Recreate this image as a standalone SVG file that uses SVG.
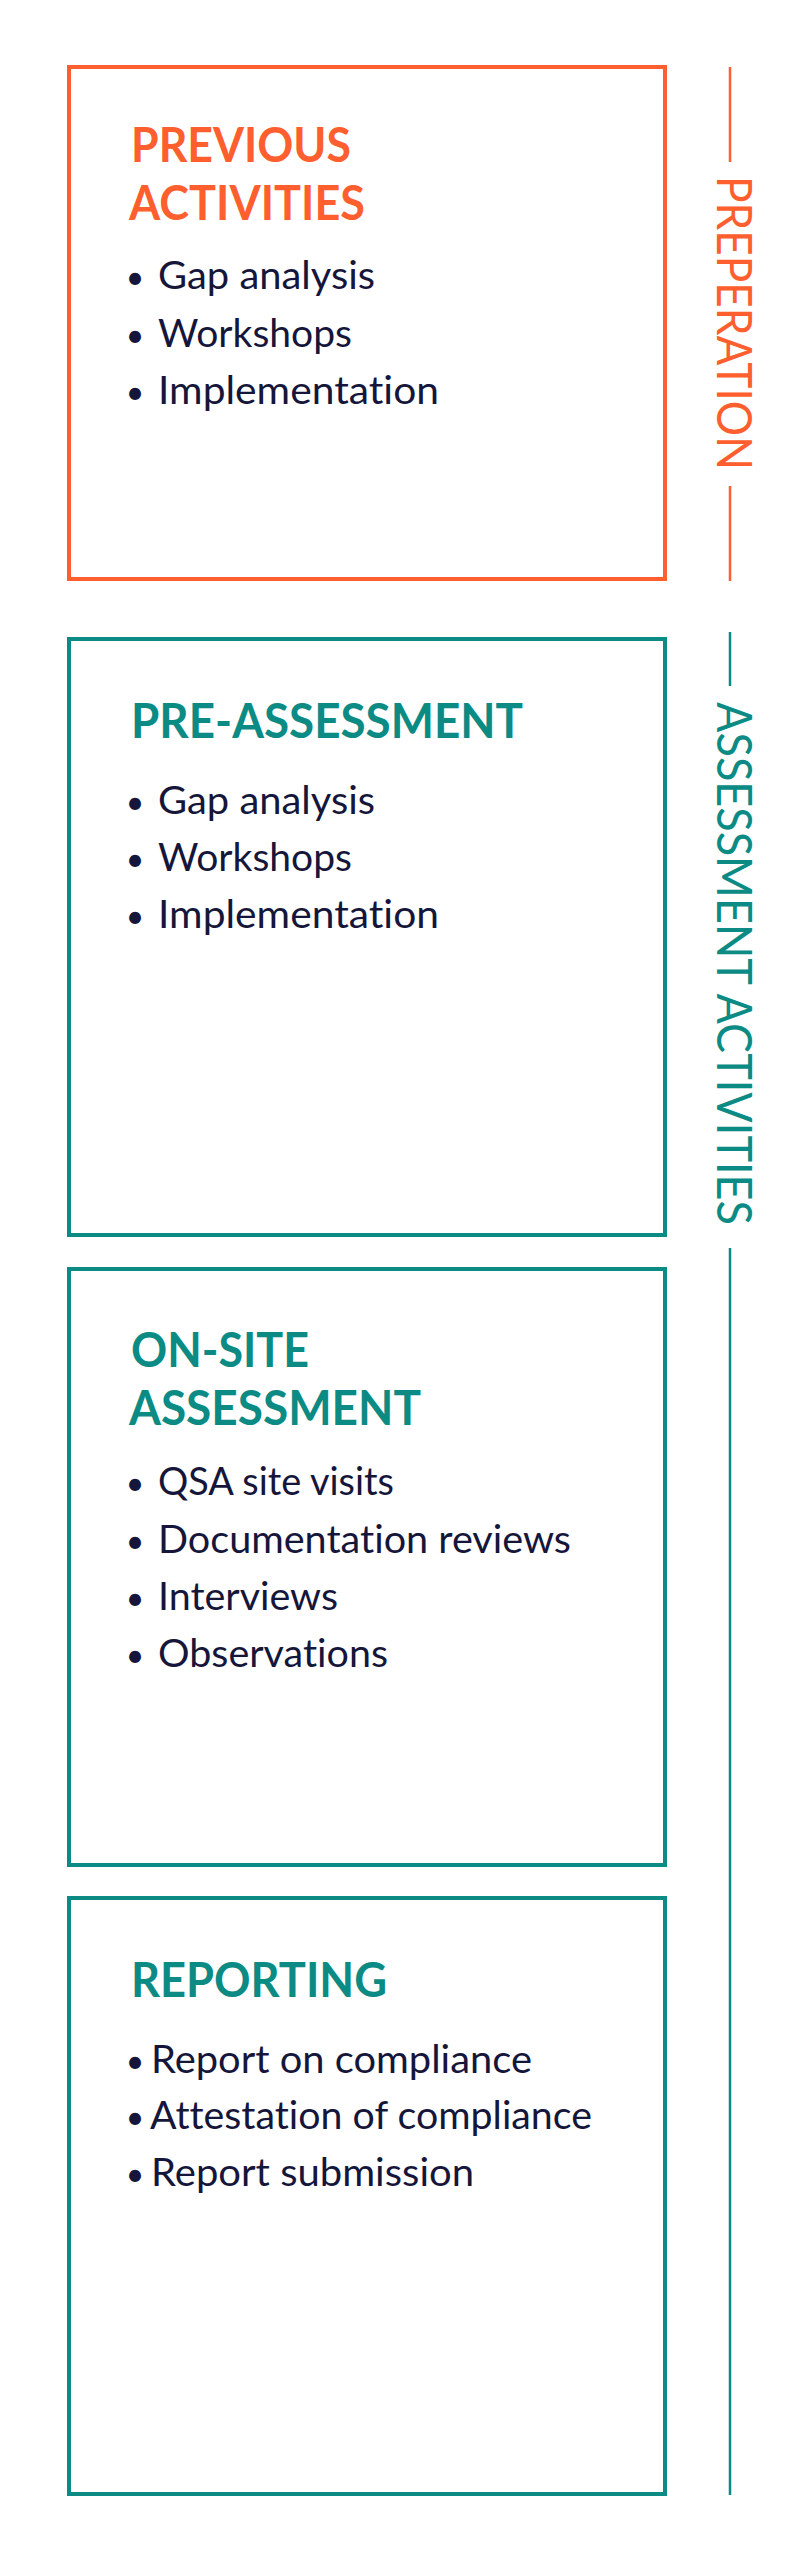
<svg xmlns="http://www.w3.org/2000/svg" width="800" height="2565" viewBox="0 0 800 2565">
<style>
.bg{fill:#ffffff}
.box{fill:none;stroke-width:4}
.or{stroke:#FF5F2E}
.tl{stroke:#0B8B84}
text{font-variant-ligatures:none}
.title{font-family:Lato,"Source Sans Pro","Noto Sans",sans-serif;font-weight:700;font-size:48px}
.tor{fill:#FF5F2E}
.ttl{fill:#0B8B84}
.item{font-family:Lato,"Noto Sans",sans-serif;font-size:39px;fill:#15163A}
.dot{font-family:Lato,"Noto Sans",sans-serif;font-size:32px;fill:#15163A;text-anchor:middle}
.side{font-family:Lato,"Noto Sans",sans-serif;font-weight:400;font-size:48px}
.rule{stroke-width:2.5;fill:none}
</style>
<rect class="bg" x="0" y="0" width="800" height="2565"/>
<g id="connectors">
<line class="rule or" x1="730" y1="67" x2="730" y2="162"/>
<line class="rule or" x1="730" y1="486" x2="730" y2="581"/>
<line class="rule tl" x1="730" y1="632" x2="730" y2="686"/>
<line class="rule tl" x1="730" y1="1248" x2="730" y2="2495"/>
</g>
<g id="label-preparation">
<text class="side tor" transform="translate(717,176) rotate(90)" textLength="294" lengthAdjust="spacingAndGlyphs">PREPERATION</text>
</g>
<g id="label-assessment">
<text class="side ttl" transform="translate(717,702) rotate(90)" textLength="523" lengthAdjust="spacingAndGlyphs">ASSESSMENT ACTIVITIES</text>
</g>
<g id="node-previous">
<rect class="box or" x="69" y="67" width="596" height="512"/>
<text class="title tor" x="131" y="162" textLength="220" lengthAdjust="spacingAndGlyphs">PREVIOUS</text>
<text class="title tor" x="129" y="220" textLength="236" lengthAdjust="spacingAndGlyphs">ACTIVITIES</text>
<text class="dot" x="135" y="289">•</text>
<text class="item" x="158" y="289" textLength="217" lengthAdjust="spacingAndGlyphs">Gap analysis</text>
<text class="dot" x="135" y="347">•</text>
<text class="item" x="158" y="347" textLength="194" lengthAdjust="spacingAndGlyphs">Workshops</text>
<text class="dot" x="135" y="404">•</text>
<text class="item" x="158" y="404" textLength="281" lengthAdjust="spacingAndGlyphs">Implementation</text>
</g>
<g id="node-pre-assessment">
<rect class="box tl" x="69" y="639" width="596" height="596"/>
<text class="title ttl" x="131" y="738" textLength="392" lengthAdjust="spacingAndGlyphs">PRE-ASSESSMENT</text>
<text class="dot" x="135" y="814">•</text>
<text class="item" x="158" y="814" textLength="217" lengthAdjust="spacingAndGlyphs">Gap analysis</text>
<text class="dot" x="135" y="871">•</text>
<text class="item" x="158" y="871" textLength="194" lengthAdjust="spacingAndGlyphs">Workshops</text>
<text class="dot" x="135" y="928">•</text>
<text class="item" x="158" y="928" textLength="281" lengthAdjust="spacingAndGlyphs">Implementation</text>
</g>
<g id="node-on-site">
<rect class="box tl" x="69" y="1269" width="596" height="596"/>
<text class="title ttl" x="131" y="1367" textLength="178" lengthAdjust="spacingAndGlyphs">ON-SITE</text>
<text class="title ttl" x="129" y="1425" textLength="292" lengthAdjust="spacingAndGlyphs">ASSESSMENT</text>
<text class="dot" x="135" y="1495">•</text>
<text class="item" x="158" y="1495" textLength="236" lengthAdjust="spacingAndGlyphs">QSA site visits</text>
<text class="dot" x="135" y="1553">•</text>
<text class="item" x="158" y="1553" textLength="413" lengthAdjust="spacingAndGlyphs">Documentation reviews</text>
<text class="dot" x="135" y="1610">•</text>
<text class="item" x="158" y="1610" textLength="180" lengthAdjust="spacingAndGlyphs">Interviews</text>
<text class="dot" x="135" y="1667">•</text>
<text class="item" x="158" y="1667" textLength="230" lengthAdjust="spacingAndGlyphs">Observations</text>
</g>
<g id="node-reporting">
<rect class="box tl" x="69" y="1898" width="596" height="596"/>
<text class="title ttl" x="131" y="1997" textLength="256" lengthAdjust="spacingAndGlyphs">REPORTING</text>
<text class="dot" x="135" y="2073">•</text>
<text class="item" x="151" y="2073" textLength="381" lengthAdjust="spacingAndGlyphs">Report on compliance</text>
<text class="dot" x="135" y="2129">•</text>
<text class="item" x="150" y="2129" textLength="442" lengthAdjust="spacingAndGlyphs">Attestation of compliance</text>
<text class="dot" x="135" y="2186">•</text>
<text class="item" x="151" y="2186" textLength="323" lengthAdjust="spacingAndGlyphs">Report submission</text>
</g>
</svg>
